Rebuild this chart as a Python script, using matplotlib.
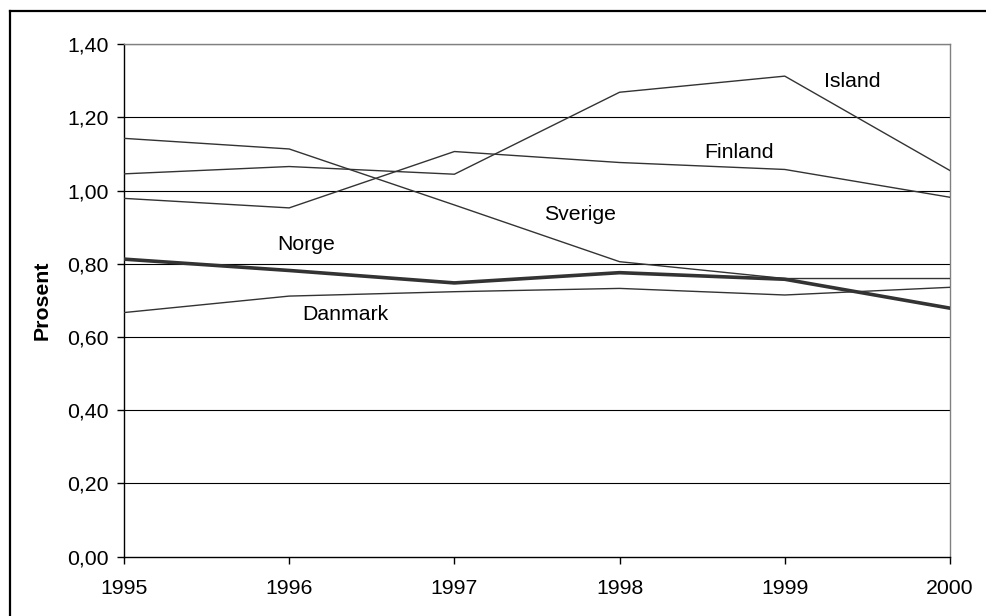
import matplotlib
matplotlib.use("Agg")
import matplotlib.pyplot as plt
from matplotlib.lines import Line2D
from matplotlib.ticker import FuncFormatter

plt.rcParams['font.family'] = ['Liberation Sans', 'DejaVu Sans']

years = [1995, 1996, 1997, 1998, 1999, 2000]

island = [1.046, 1.066, 1.045, 1.269, 1.313, 1.055]
finland = [0.979, 0.953, 1.107, 1.077, 1.058, 0.982]
sverige = [1.143, 1.114, 0.961, 0.806, 0.760, 0.760]
norge = [0.813, 0.782, 0.748, 0.776, 0.758, 0.679]
danmark = [0.667, 0.712, 0.724, 0.733, 0.715, 0.736]

yticks = [0.0, 0.2, 0.4, 0.6, 0.8, 1.0, 1.2, 1.4]

# label name -> (x, y) in data units, where the text sits on the chart
label_pos = {
    "Island": (1999.41, 1.297),
    "Finland": (1998.72, 1.103),
    "Sverige": (1997.76, 0.936),
    "Norge": (1996.10, 0.854),
    "Danmark": (1996.34, 0.663),
}


def main():
    fig = plt.figure(figsize=(9.87, 6.16), dpi=100)
    ax = fig.add_axes([0.1256, 0.0963, 0.8369, 0.8318])

    for yt in yticks[1:]:
        ax.axhline(yt, color="black", lw=0.8, zorder=1)

    thin = dict(color="#333333", lw=1.0, zorder=3)
    ax.plot(years, island, **thin)
    ax.plot(years, finland, **thin)
    ax.plot(years, sverige, **thin)
    ax.plot(years, danmark, **thin)
    ax.plot(years, norge, color="#333333", lw=2.6, zorder=4)

    for name, (x, y) in label_pos.items():
        ax.text(x, y, name, fontsize=15.3, ha="center", va="center", zorder=5)

    ax.set_xlim(1995, 2000)
    ax.set_ylim(0, 1.4)
    ax.set_xticks(years)
    ax.set_yticks(yticks)
    ax.yaxis.set_major_formatter(FuncFormatter(lambda v, p: f"{v:.2f}".replace(".", ",")))

    ax.tick_params(axis="both", labelsize=15.3, direction="out", length=5, width=1, color="black")
    ax.tick_params(axis="y", pad=6)
    ax.tick_params(axis="x", pad=11)

    ax.set_ylabel("Prosent", fontsize=15.3, fontweight="bold")
    ax.yaxis.set_label_coords(-0.0872, 0.5)

    ax.spines["left"].set_color("black")
    ax.spines["bottom"].set_color("black")
    ax.spines["left"].set_linewidth(1.0)
    ax.spines["bottom"].set_linewidth(1.0)
    ax.spines["top"].set_color("#808080")
    ax.spines["right"].set_color("#808080")
    ax.spines["top"].set_linewidth(1.0)
    ax.spines["right"].set_linewidth(1.0)

    # outer chart frame, only left and top edges are visible
    x0 = 9.5 / 987
    y0 = 1 - 10.5 / 616
    fig.add_artist(Line2D([x0, x0], [0, y0], color="black", lw=1.6, transform=fig.transFigure))
    fig.add_artist(Line2D([x0, 1], [y0, y0], color="black", lw=1.6, transform=fig.transFigure))

    fig.savefig("out.png", dpi=100)


if __name__ == "__main__":
    main()
